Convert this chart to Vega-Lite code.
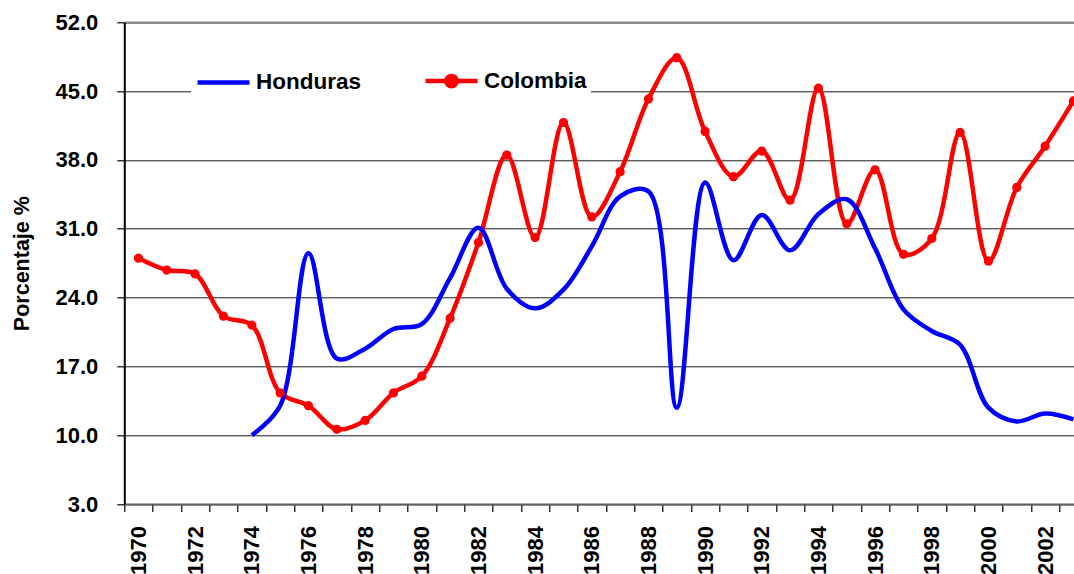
{
  "$schema": "https://vega.github.io/schema/vega-lite/v6.json",
  "width": 949.7,
  "height": 481.7,
  "autosize": {"type": "none"},
  "padding": {"left": 124.3, "top": 22.3, "right": 0, "bottom": 70},
  "background": "white",
  "config": {
    "view": {"stroke": null},
    "font": "Liberation Sans"
  },
  "data": {
    "values": [
      {"year": 1970, "country": "Colombia", "value": 28.0},
      {"year": 1971, "country": "Colombia", "value": 26.8},
      {"year": 1972, "country": "Colombia", "value": 26.4},
      {"year": 1973, "country": "Colombia", "value": 22.1},
      {"year": 1974, "country": "Colombia", "value": 21.2},
      {"year": 1975, "country": "Colombia", "value": 14.3},
      {"year": 1976, "country": "Colombia", "value": 13.0},
      {"year": 1977, "country": "Colombia", "value": 10.6},
      {"year": 1978, "country": "Colombia", "value": 11.5},
      {"year": 1979, "country": "Colombia", "value": 14.3},
      {"year": 1980, "country": "Colombia", "value": 16.0},
      {"year": 1981, "country": "Colombia", "value": 21.9},
      {"year": 1982, "country": "Colombia", "value": 29.6},
      {"year": 1983, "country": "Colombia", "value": 38.5},
      {"year": 1984, "country": "Colombia", "value": 30.1},
      {"year": 1985, "country": "Colombia", "value": 41.8},
      {"year": 1986, "country": "Colombia", "value": 32.2},
      {"year": 1987, "country": "Colombia", "value": 36.8},
      {"year": 1988, "country": "Colombia", "value": 44.2},
      {"year": 1989, "country": "Colombia", "value": 48.4},
      {"year": 1990, "country": "Colombia", "value": 40.9},
      {"year": 1991, "country": "Colombia", "value": 36.3},
      {"year": 1992, "country": "Colombia", "value": 38.9},
      {"year": 1993, "country": "Colombia", "value": 33.9},
      {"year": 1994, "country": "Colombia", "value": 45.3},
      {"year": 1995, "country": "Colombia", "value": 31.5},
      {"year": 1996, "country": "Colombia", "value": 37.0},
      {"year": 1997, "country": "Colombia", "value": 28.4},
      {"year": 1998, "country": "Colombia", "value": 30.0},
      {"year": 1999, "country": "Colombia", "value": 40.8},
      {"year": 2000, "country": "Colombia", "value": 27.7},
      {"year": 2001, "country": "Colombia", "value": 35.2},
      {"year": 2002, "country": "Colombia", "value": 39.4},
      {"year": 2003, "country": "Colombia", "value": 44.0},
      {"year": 1974, "country": "Honduras", "value": 10.0},
      {"year": 1975, "country": "Honduras", "value": 13.0},
      {"year": 1976, "country": "Honduras", "value": 28.5},
      {"year": 1977, "country": "Honduras", "value": 17.8},
      {"year": 1978, "country": "Honduras", "value": 18.8},
      {"year": 1979, "country": "Honduras", "value": 20.8},
      {"year": 1980, "country": "Honduras", "value": 21.3},
      {"year": 1981, "country": "Honduras", "value": 26.0},
      {"year": 1982, "country": "Honduras", "value": 31.1},
      {"year": 1983, "country": "Honduras", "value": 24.9},
      {"year": 1984, "country": "Honduras", "value": 22.9},
      {"year": 1985, "country": "Honduras", "value": 24.8},
      {"year": 1986, "country": "Honduras", "value": 29.2},
      {"year": 1987, "country": "Honduras", "value": 34.3},
      {"year": 1988, "country": "Honduras", "value": 34.8},
      {"year": 1989, "country": "Honduras", "value": 12.8},
      {"year": 1990, "country": "Honduras", "value": 35.7},
      {"year": 1991, "country": "Honduras", "value": 27.8},
      {"year": 1992, "country": "Honduras", "value": 32.4},
      {"year": 1993, "country": "Honduras", "value": 28.8},
      {"year": 1994, "country": "Honduras", "value": 32.5},
      {"year": 1995, "country": "Honduras", "value": 34.0},
      {"year": 1996, "country": "Honduras", "value": 29.0},
      {"year": 1997, "country": "Honduras", "value": 22.8},
      {"year": 1998, "country": "Honduras", "value": 20.6},
      {"year": 1999, "country": "Honduras", "value": 19.2},
      {"year": 2000, "country": "Honduras", "value": 12.8},
      {"year": 2001, "country": "Honduras", "value": 11.4},
      {"year": 2002, "country": "Honduras", "value": 12.2},
      {"year": 2003, "country": "Honduras", "value": 11.6}
    ]
  },
  "encoding": {
    "x": {
      "field": "year",
      "type": "quantitative",
      "scale": {"domain": [1969.5, 2003.02], "nice": false, "zero": false},
      "axis": {
        "title": null,
        "values": [1970,1971,1972,1973,1974,1975,1976,1977,1978,1979,1980,1981,1982,1983,1984,1985,1986,1987,1988,1989,1990,1991,1992,1993,1994,1995,1996,1997,1998,1999,2000,2001,2002,2003],
        "format": "d",
        "labelExpr": "datum.value % 2 === 0 ? datum.label : ''",
        "tickOffset": -14.165,
        "labelOffset": 14.165,
        "labelAngle": -90,
        "labelAlign": "right",
        "labelBaseline": "middle",
        "labelPadding": 14,
        "labelFlush": false,
        "labelOverlap": false,
        "labelBound": false,
        "labelFont": "Liberation Sans",
        "labelFontWeight": "bold",
        "labelFontSize": 22,
        "labelColor": "#000000",
        "tickSize": 7.5,
        "tickColor": "#000000",
        "tickWidth": 1.2,
        "domainColor": "#606060",
        "domainWidth": 2,
        "grid": false
      }
    },
    "y": {
      "field": "value",
      "type": "quantitative",
      "scale": {"domain": [3, 52], "nice": false, "zero": false},
      "axis": {
        "title": "Porcentaje %",
        "titleFont": "Liberation Sans",
        "titleFontWeight": "bold",
        "titleFontSize": 21.5,
        "titleColor": "#000000",
        "titlePadding": 21,
        "values": [3, 10, 17, 24, 31, 38, 45, 52],
        "format": ".1f",
        "labelFont": "Liberation Sans",
        "labelFontWeight": "bold",
        "labelFontSize": 22,
        "labelColor": "#000000",
        "labelPadding": 19,
        "tickSize": 7.5,
        "tickColor": "#000000",
        "tickWidth": 1.2,
        "domainColor": "#000000",
        "domainWidth": 2,
        "grid": true,
        "gridColor": {"condition": {"test": "datum.value === 52", "value": "#8c8c8c"}, "value": "#1a1a1a"},
        "gridWidth": {"condition": {"test": "datum.value === 52", "value": 2.5}, "value": 1}
      }
    }
  },
  "layer": [
    {
      "mark": {"type": "line", "interpolate": "catmull-rom", "strokeWidth": 4.5},
      "encoding": {
        "color": {
          "field": "country",
          "type": "nominal",
          "scale": {"domain": ["Honduras", "Colombia"], "range": ["#0000ff", "#ff0000"]},
          "legend": {
            "orient": "none",
            "legendX": 66.7,
            "legendY": 26.15,
            "direction": "horizontal",
            "title": null,
            "labelFont": "Liberation Sans",
            "labelFontWeight": "bold",
            "labelFontSize": 22.5,
            "labelColor": "#000000",
            "labelOffset": 4,
            "columnPadding": 54,
            "padding": 4,
            "fillColor": "white",
            "symbolType": "stroke",
            "symbolSize": 2704,
            "symbolStrokeWidth": 4.5,
            "encode": {
              "symbols": {
                "update": {
                  "shape": {"signal": "datum.value === 'Colombia' ? 'M-1,0H1M-0.2,0A0.2,0.2,0,1,1,0.2,0A0.2,0.2,0,1,1,-0.2,0Z' : 'M-1,0H1'"},
                  "fill": {"signal": "datum.value === 'Colombia' ? '#ff0000' : 'transparent'"},
                  "strokeWidth": {"value": 4.5}
                }
              }
            }
          }
        },
        "detail": {"field": "country"}
      }
    },
    {
      "transform": [{"filter": "datum.country === 'Colombia'"}],
      "mark": {"type": "point", "shape": "circle", "filled": true, "size": 60, "color": "#ff0000", "stroke": "#ff0000", "strokeWidth": 1.5, "opacity": 1}
    }
  ]
}
